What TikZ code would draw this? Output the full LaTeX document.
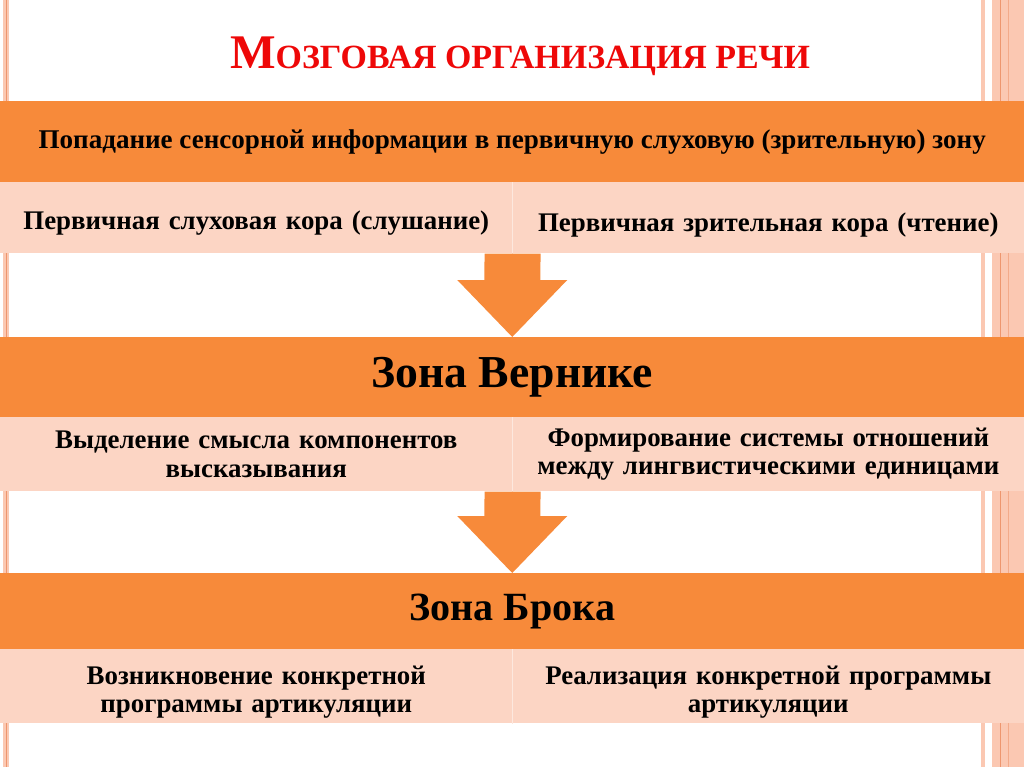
\documentclass[tikz,border=0pt]{standalone}
\usepackage{fontspec}
\setmainfont{Liberation Serif}
\usetikzlibrary{calc}

\definecolor{orng}{RGB}{247,138,58}
\definecolor{peach}{RGB}{252,213,196}
\definecolor{strp}{RGB}{251,200,178}
\definecolor{strpdk}{RGB}{238,150,110}
\definecolor{divln}{RGB}{253,232,222}
\definecolor{ttlred}{RGB}{238,8,8}

\begin{document}
\begin{tikzpicture}[x=0.02cm, y=-0.02cm,
    band/.style={rectangle, fill=orng, minimum width=20.48cm, inner sep=0pt,
        font=\bfseries\fontsize{15.4}{18}\selectfont},
    cell/.style={rectangle, fill=peach, minimum width=10.24cm, inner sep=0pt,
        text width=10.1cm, align=center, font=\bfseries\fontsize{15.3}{16}\selectfont},
    textdrop/.style={execute at begin node={\rule{0pt}{#1}}},
    zone/.style={band, font=\bfseries\fontsize{26}{30}\selectfont}]
    \useasboundingbox (0,0) rectangle (1024,767);

    % side stripes of the slide
    \fill[strp] (3,0) rectangle (9,767);
    \draw[strpdk, line width=0.4pt] (6,0) -- (6,767);
    \fill[strp] (981,0) rectangle (985,767);
    \fill[strp] (992,0) rectangle (1024,767);
    \draw[strpdk, line width=0.4pt] (1000,0) -- (1000,767);
    \draw[strpdk!60!strp, line width=0.4pt] (1008,0) -- (1008,767);

    % title
    \node[ttlred, font=\bfseries] (title) at (520,56)
        {\fontsize{27.5}{30}\selectfont М\fontsize{19.3}{22}\selectfont ОЗГОВАЯ ОРГАНИЗАЦИЯ РЕЧИ};

    % first block: sensory input
    \node[band, minimum height=1.62cm, anchor=north west] (info) at (0,101)
        {Попадание сенсорной информации в первичную слуховую (зрительную) зону};
    \node[cell, textdrop=17pt, minimum height=1.42cm, anchor=north west] (audcx) at (0,182)
        {Первичная слуховая кора (слушание)};
    \node[cell, textdrop=19pt, minimum height=1.42cm, anchor=north west] (viscx) at (512,182)
        {Первичная зрительная кора (чтение)};

    % Wernicke
    \node[zone, minimum height=1.6cm, anchor=north west] (wern) at (0,337) {Зона Вернике};
    \node[cell, minimum height=1.48cm, anchor=north west] (wsense) at (0,417)
        {Выделение смысла компонентов\\ высказывания};
    \node[cell, minimum height=1.48cm, anchor=north west] (wrel) at (512,417)
        {Формирование системы отношений\\ между лингвистическими единицами};

    % Broca
    \node[zone, font=\bfseries\fontsize{22.8}{26}\selectfont, minimum height=1.52cm,
        anchor=north west] (broca) at (0,573) {Зона Брока};
    \node[cell, textdrop=17.5pt, minimum height=1.48cm, anchor=north west] (bprog) at (0,649)
        {Возникновение конкретной\\ программы артикуляции};
    \node[cell, textdrop=17.5pt, minimum height=1.48cm, anchor=north west] (breal) at (512,649)
        {Реализация конкретной программы\\ артикуляции};

    % dividers between the cells
    \foreach \c in {audcx, wsense, bprog}
        \draw[divln, line width=1pt] (\c.north east) -- (\c.south east);

    % block arrows between the stages
    \foreach \a/\b in {audcx/wern, wsense/broca}
        \fill[orng] ($(\a.south east)+(-28,0)$) -- ($(\a.south east)+(28,0)$)
            -- ($(\b.north)+(28,-57)$) -- ($(\b.north)+(55,-57)$) -- (\b.north)
            -- ($(\b.north)+(-55,-57)$) -- ($(\b.north)+(-28,-57)$) -- cycle;

\end{tikzpicture}
\end{document}
